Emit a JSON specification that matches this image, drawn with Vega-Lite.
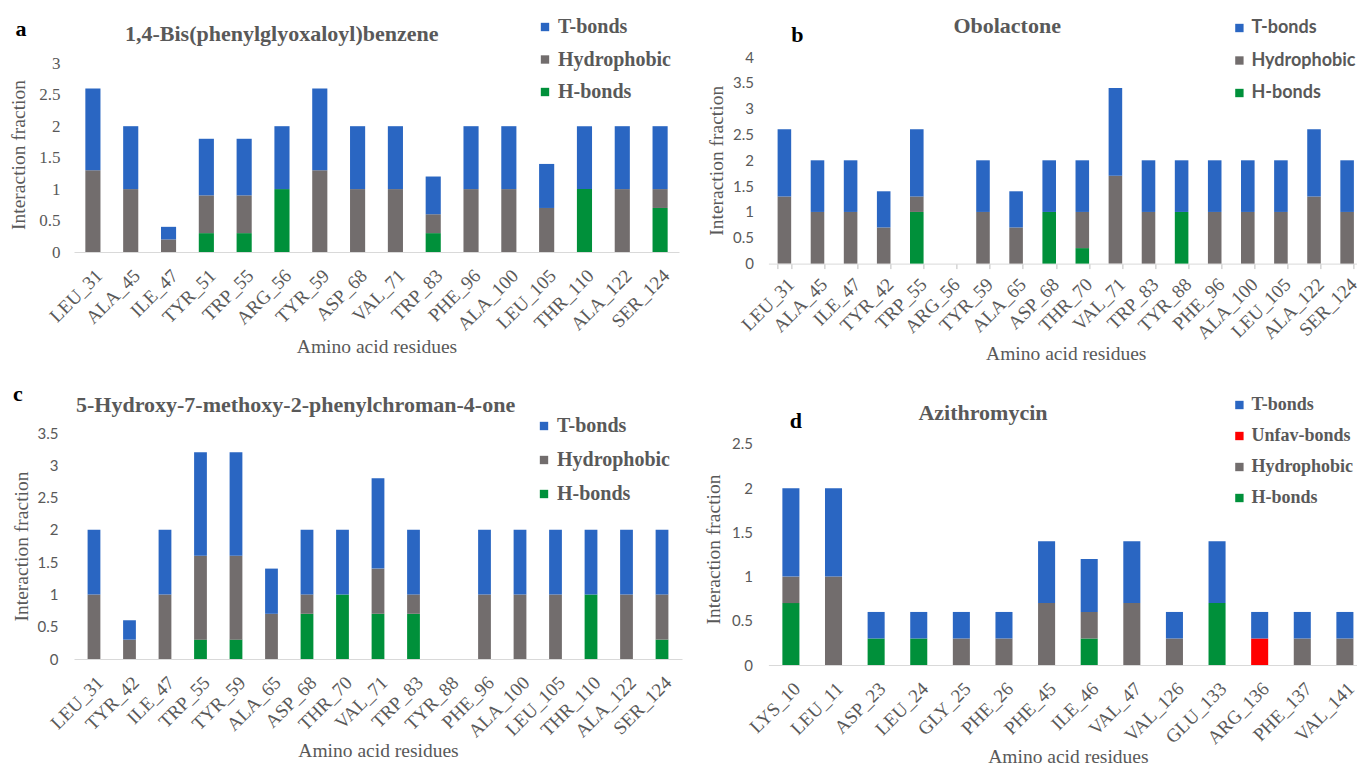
{
  "$schema": "https://vega.github.io/schema/vega-lite/v6.json",
  "background": "white",
  "padding": {"left": 8, "top": 15, "right": 0, "bottom": 0},
  "config": {
    "view": {"stroke": null},
    "font": "Liberation Serif",
    "axis": {"grid": false, "labelColor": "#595959", "titleColor": "#595959", "titleFontWeight": "normal", "titleFont": "Liberation Serif", "titleFontSize": 19.5, "domainColor": "#d9d9d9"},
    "legend": {"labelColor": "#595959", "labelFontWeight": "bold", "symbolType": "square", "symbolStrokeWidth": 0, "title": null}
  },
  "data": {"values": [
    {"panel": "a", "residue": "LEU_31", "type": "Hydrophobic", "value": 1.3},
    {"panel": "a", "residue": "LEU_31", "type": "T-bonds", "value": 1.3},
    {"panel": "a", "residue": "ALA_45", "type": "Hydrophobic", "value": 1.0},
    {"panel": "a", "residue": "ALA_45", "type": "T-bonds", "value": 1.0},
    {"panel": "a", "residue": "ILE_47", "type": "Hydrophobic", "value": 0.2},
    {"panel": "a", "residue": "ILE_47", "type": "T-bonds", "value": 0.2},
    {"panel": "a", "residue": "TYR_51", "type": "H-bonds", "value": 0.3},
    {"panel": "a", "residue": "TYR_51", "type": "Hydrophobic", "value": 0.6},
    {"panel": "a", "residue": "TYR_51", "type": "T-bonds", "value": 0.9},
    {"panel": "a", "residue": "TRP_55", "type": "H-bonds", "value": 0.3},
    {"panel": "a", "residue": "TRP_55", "type": "Hydrophobic", "value": 0.6},
    {"panel": "a", "residue": "TRP_55", "type": "T-bonds", "value": 0.9},
    {"panel": "a", "residue": "ARG_56", "type": "H-bonds", "value": 1.0},
    {"panel": "a", "residue": "ARG_56", "type": "T-bonds", "value": 1.0},
    {"panel": "a", "residue": "TYR_59", "type": "Hydrophobic", "value": 1.3},
    {"panel": "a", "residue": "TYR_59", "type": "T-bonds", "value": 1.3},
    {"panel": "a", "residue": "ASP_68", "type": "Hydrophobic", "value": 1.0},
    {"panel": "a", "residue": "ASP_68", "type": "T-bonds", "value": 1.0},
    {"panel": "a", "residue": "VAL_71", "type": "Hydrophobic", "value": 1.0},
    {"panel": "a", "residue": "VAL_71", "type": "T-bonds", "value": 1.0},
    {"panel": "a", "residue": "TRP_83", "type": "H-bonds", "value": 0.3},
    {"panel": "a", "residue": "TRP_83", "type": "Hydrophobic", "value": 0.3},
    {"panel": "a", "residue": "TRP_83", "type": "T-bonds", "value": 0.6},
    {"panel": "a", "residue": "PHE_96", "type": "Hydrophobic", "value": 1.0},
    {"panel": "a", "residue": "PHE_96", "type": "T-bonds", "value": 1.0},
    {"panel": "a", "residue": "ALA_100", "type": "Hydrophobic", "value": 1.0},
    {"panel": "a", "residue": "ALA_100", "type": "T-bonds", "value": 1.0},
    {"panel": "a", "residue": "LEU_105", "type": "Hydrophobic", "value": 0.7},
    {"panel": "a", "residue": "LEU_105", "type": "T-bonds", "value": 0.7},
    {"panel": "a", "residue": "THR_110", "type": "H-bonds", "value": 1.0},
    {"panel": "a", "residue": "THR_110", "type": "T-bonds", "value": 1.0},
    {"panel": "a", "residue": "ALA_122", "type": "Hydrophobic", "value": 1.0},
    {"panel": "a", "residue": "ALA_122", "type": "T-bonds", "value": 1.0},
    {"panel": "a", "residue": "SER_124", "type": "H-bonds", "value": 0.7},
    {"panel": "a", "residue": "SER_124", "type": "Hydrophobic", "value": 0.3},
    {"panel": "a", "residue": "SER_124", "type": "T-bonds", "value": 1.0},

    {"panel": "b", "residue": "LEU_31", "type": "Hydrophobic", "value": 1.3},
    {"panel": "b", "residue": "LEU_31", "type": "T-bonds", "value": 1.3},
    {"panel": "b", "residue": "ALA_45", "type": "Hydrophobic", "value": 1.0},
    {"panel": "b", "residue": "ALA_45", "type": "T-bonds", "value": 1.0},
    {"panel": "b", "residue": "ILE_47", "type": "Hydrophobic", "value": 1.0},
    {"panel": "b", "residue": "ILE_47", "type": "T-bonds", "value": 1.0},
    {"panel": "b", "residue": "TYR_42", "type": "Hydrophobic", "value": 0.7},
    {"panel": "b", "residue": "TYR_42", "type": "T-bonds", "value": 0.7},
    {"panel": "b", "residue": "TRP_55", "type": "H-bonds", "value": 1.0},
    {"panel": "b", "residue": "TRP_55", "type": "Hydrophobic", "value": 0.3},
    {"panel": "b", "residue": "TRP_55", "type": "T-bonds", "value": 1.3},
    {"panel": "b", "residue": "ARG_56", "type": "T-bonds", "value": 0},
    {"panel": "b", "residue": "TYR_59", "type": "Hydrophobic", "value": 1.0},
    {"panel": "b", "residue": "TYR_59", "type": "T-bonds", "value": 1.0},
    {"panel": "b", "residue": "ALA_65", "type": "Hydrophobic", "value": 0.7},
    {"panel": "b", "residue": "ALA_65", "type": "T-bonds", "value": 0.7},
    {"panel": "b", "residue": "ASP_68", "type": "H-bonds", "value": 1.0},
    {"panel": "b", "residue": "ASP_68", "type": "T-bonds", "value": 1.0},
    {"panel": "b", "residue": "THR_70", "type": "H-bonds", "value": 0.3},
    {"panel": "b", "residue": "THR_70", "type": "Hydrophobic", "value": 0.7},
    {"panel": "b", "residue": "THR_70", "type": "T-bonds", "value": 1.0},
    {"panel": "b", "residue": "VAL_71", "type": "Hydrophobic", "value": 1.7},
    {"panel": "b", "residue": "VAL_71", "type": "T-bonds", "value": 1.7},
    {"panel": "b", "residue": "TRP_83", "type": "Hydrophobic", "value": 1.0},
    {"panel": "b", "residue": "TRP_83", "type": "T-bonds", "value": 1.0},
    {"panel": "b", "residue": "TYR_88", "type": "H-bonds", "value": 1.0},
    {"panel": "b", "residue": "TYR_88", "type": "T-bonds", "value": 1.0},
    {"panel": "b", "residue": "PHE_96", "type": "Hydrophobic", "value": 1.0},
    {"panel": "b", "residue": "PHE_96", "type": "T-bonds", "value": 1.0},
    {"panel": "b", "residue": "ALA_100", "type": "Hydrophobic", "value": 1.0},
    {"panel": "b", "residue": "ALA_100", "type": "T-bonds", "value": 1.0},
    {"panel": "b", "residue": "LEU_105", "type": "Hydrophobic", "value": 1.0},
    {"panel": "b", "residue": "LEU_105", "type": "T-bonds", "value": 1.0},
    {"panel": "b", "residue": "ALA_122", "type": "Hydrophobic", "value": 1.3},
    {"panel": "b", "residue": "ALA_122", "type": "T-bonds", "value": 1.3},
    {"panel": "b", "residue": "SER_124", "type": "Hydrophobic", "value": 1.0},
    {"panel": "b", "residue": "SER_124", "type": "T-bonds", "value": 1.0},

    {"panel": "c", "residue": "LEU_31", "type": "Hydrophobic", "value": 1.0},
    {"panel": "c", "residue": "LEU_31", "type": "T-bonds", "value": 1.0},
    {"panel": "c", "residue": "TYR_42", "type": "Hydrophobic", "value": 0.3},
    {"panel": "c", "residue": "TYR_42", "type": "T-bonds", "value": 0.3},
    {"panel": "c", "residue": "ILE_47", "type": "Hydrophobic", "value": 1.0},
    {"panel": "c", "residue": "ILE_47", "type": "T-bonds", "value": 1.0},
    {"panel": "c", "residue": "TRP_55", "type": "H-bonds", "value": 0.3},
    {"panel": "c", "residue": "TRP_55", "type": "Hydrophobic", "value": 1.3},
    {"panel": "c", "residue": "TRP_55", "type": "T-bonds", "value": 1.6},
    {"panel": "c", "residue": "TYR_59", "type": "H-bonds", "value": 0.3},
    {"panel": "c", "residue": "TYR_59", "type": "Hydrophobic", "value": 1.3},
    {"panel": "c", "residue": "TYR_59", "type": "T-bonds", "value": 1.6},
    {"panel": "c", "residue": "ALA_65", "type": "Hydrophobic", "value": 0.7},
    {"panel": "c", "residue": "ALA_65", "type": "T-bonds", "value": 0.7},
    {"panel": "c", "residue": "ASP_68", "type": "H-bonds", "value": 0.7},
    {"panel": "c", "residue": "ASP_68", "type": "Hydrophobic", "value": 0.3},
    {"panel": "c", "residue": "ASP_68", "type": "T-bonds", "value": 1.0},
    {"panel": "c", "residue": "THR_70", "type": "H-bonds", "value": 1.0},
    {"panel": "c", "residue": "THR_70", "type": "T-bonds", "value": 1.0},
    {"panel": "c", "residue": "VAL_71", "type": "H-bonds", "value": 0.7},
    {"panel": "c", "residue": "VAL_71", "type": "Hydrophobic", "value": 0.7},
    {"panel": "c", "residue": "VAL_71", "type": "T-bonds", "value": 1.4},
    {"panel": "c", "residue": "TRP_83", "type": "H-bonds", "value": 0.7},
    {"panel": "c", "residue": "TRP_83", "type": "Hydrophobic", "value": 0.3},
    {"panel": "c", "residue": "TRP_83", "type": "T-bonds", "value": 1.0},
    {"panel": "c", "residue": "TYR_88", "type": "T-bonds", "value": 0},
    {"panel": "c", "residue": "PHE_96", "type": "Hydrophobic", "value": 1.0},
    {"panel": "c", "residue": "PHE_96", "type": "T-bonds", "value": 1.0},
    {"panel": "c", "residue": "ALA_100", "type": "Hydrophobic", "value": 1.0},
    {"panel": "c", "residue": "ALA_100", "type": "T-bonds", "value": 1.0},
    {"panel": "c", "residue": "LEU_105", "type": "Hydrophobic", "value": 1.0},
    {"panel": "c", "residue": "LEU_105", "type": "T-bonds", "value": 1.0},
    {"panel": "c", "residue": "THR_110", "type": "H-bonds", "value": 1.0},
    {"panel": "c", "residue": "THR_110", "type": "T-bonds", "value": 1.0},
    {"panel": "c", "residue": "ALA_122", "type": "Hydrophobic", "value": 1.0},
    {"panel": "c", "residue": "ALA_122", "type": "T-bonds", "value": 1.0},
    {"panel": "c", "residue": "SER_124", "type": "H-bonds", "value": 0.3},
    {"panel": "c", "residue": "SER_124", "type": "Hydrophobic", "value": 0.7},
    {"panel": "c", "residue": "SER_124", "type": "T-bonds", "value": 1.0},

    {"panel": "d", "residue": "LYS_10", "type": "H-bonds", "value": 0.7},
    {"panel": "d", "residue": "LYS_10", "type": "Hydrophobic", "value": 0.3},
    {"panel": "d", "residue": "LYS_10", "type": "T-bonds", "value": 1.0},
    {"panel": "d", "residue": "LEU_11", "type": "Hydrophobic", "value": 1.0},
    {"panel": "d", "residue": "LEU_11", "type": "T-bonds", "value": 1.0},
    {"panel": "d", "residue": "ASP_23", "type": "H-bonds", "value": 0.3},
    {"panel": "d", "residue": "ASP_23", "type": "T-bonds", "value": 0.3},
    {"panel": "d", "residue": "LEU_24", "type": "H-bonds", "value": 0.3},
    {"panel": "d", "residue": "LEU_24", "type": "T-bonds", "value": 0.3},
    {"panel": "d", "residue": "GLY_25", "type": "Hydrophobic", "value": 0.3},
    {"panel": "d", "residue": "GLY_25", "type": "T-bonds", "value": 0.3},
    {"panel": "d", "residue": "PHE_26", "type": "Hydrophobic", "value": 0.3},
    {"panel": "d", "residue": "PHE_26", "type": "T-bonds", "value": 0.3},
    {"panel": "d", "residue": "PHE_45", "type": "Hydrophobic", "value": 0.7},
    {"panel": "d", "residue": "PHE_45", "type": "T-bonds", "value": 0.7},
    {"panel": "d", "residue": "ILE_46", "type": "H-bonds", "value": 0.3},
    {"panel": "d", "residue": "ILE_46", "type": "Hydrophobic", "value": 0.3},
    {"panel": "d", "residue": "ILE_46", "type": "T-bonds", "value": 0.6},
    {"panel": "d", "residue": "VAL_47", "type": "Hydrophobic", "value": 0.7},
    {"panel": "d", "residue": "VAL_47", "type": "T-bonds", "value": 0.7},
    {"panel": "d", "residue": "VAL_126", "type": "Hydrophobic", "value": 0.3},
    {"panel": "d", "residue": "VAL_126", "type": "T-bonds", "value": 0.3},
    {"panel": "d", "residue": "GLU_133", "type": "H-bonds", "value": 0.7},
    {"panel": "d", "residue": "GLU_133", "type": "T-bonds", "value": 0.7},
    {"panel": "d", "residue": "ARG_136", "type": "Unfav-bonds", "value": 0.3},
    {"panel": "d", "residue": "ARG_136", "type": "T-bonds", "value": 0.3},
    {"panel": "d", "residue": "PHE_137", "type": "Hydrophobic", "value": 0.3},
    {"panel": "d", "residue": "PHE_137", "type": "T-bonds", "value": 0.3},
    {"panel": "d", "residue": "VAL_141", "type": "Hydrophobic", "value": 0.3},
    {"panel": "d", "residue": "VAL_141", "type": "T-bonds", "value": 0.3}
  ]},
  "columns": 2,
  "bounds": "flush",
  "spacing": {"row": 169, "column": 86.4},
  "resolve": {"scale": {"x": "independent", "y": "independent", "color": "independent"}, "legend": {"color": "independent"}},
  "concat": [
    {
      "width": 605, "height": 195,
      "title": {"text": "1,4-Bis(phenylglyoxaloyl)benzene", "anchor": "start", "frame": "group", "dx": 51, "dy": 44, "offset": 15, "font": "Liberation Serif", "fontSize": 22, "fontWeight": "bold", "color": "#595959"},
      "layer": [
        {
          "transform": [{"filter": "datum.panel === 'a'"}, {"window": [{"op": "row_number", "as": "stack_order"}]}],
          "mark": {"type": "bar"},
          "encoding": {
            "x": {"field": "residue", "type": "nominal", "scale": {"domain": ["LEU_31","ALA_45","ILE_47","TYR_51","TRP_55","ARG_56","TYR_59","ASP_68","VAL_71","TRP_83","PHE_96","ALA_100","LEU_105","THR_110","ALA_122","SER_124"], "paddingInner": 0.6, "paddingOuter": 0.3},
                  "axis": {"title": "Amino acid residues", "labelAngle": -45, "labelFont": "Liberation Serif", "labelFontSize": 19, "ticks": false, "labelPadding": 14, "titlePadding": 4}},
            "y": {"field": "value", "type": "quantitative", "stack": "zero", "scale": {"domain": [0, 3.1], "nice": false},
                  "axis": {"title": "Interaction fraction", "values": [0,0.5,1,1.5,2,2.5,3], "tickCount": 20, "format": "~g", "labelOverlap": false, "labelFont": "Liberation Serif", "labelFontSize": 17, "ticks": false, "domain": false, "labelPadding": 14, "titlePadding": 10.5}},
            "color": {"field": "type", "type": "nominal",
                      "scale": {"domain": ["T-bonds","Hydrophobic","H-bonds"], "range": ["#2A66C2","#726D6D","#00903A"]},
                      "legend": {"orient": "none", "legendX": 461, "legendY": -40, "values": ["T-bonds","Hydrophobic","H-bonds"], "labelFont": "Liberation Serif", "labelFontSize": 20, "symbolSize": 70, "rowPadding": 12.5, "labelOffset": 3}},
            "order": {"field": "stack_order", "type": "quantitative", "sort": "ascending"}
          }
        },
        {
          "data": {"values": [{"label": "a"}]},
          "mark": {"type": "text", "font": "Liberation Serif", "fontSize": 22, "fontWeight": "bold", "color": "black", "align": "center", "baseline": "middle", "dx": -72},
          "encoding": {"text": {"field": "label"}, "x": {"datum": "LEU_31", "type": "nominal"}, "y": {"datum": 3.55, "type": "quantitative"}}
        }
      ]
    },
    {
      "width": 594.7, "height": 206.6,
      "title": {"text": "Obolactone", "anchor": "start", "frame": "group", "dx": 185, "dy": 42, "offset": 23, "font": "Liberation Serif", "fontSize": 22, "fontWeight": "bold", "color": "#595959"},
      "layer": [
        {
          "transform": [{"filter": "datum.panel === 'b'"}, {"window": [{"op": "row_number", "as": "stack_order"}]}],
          "mark": {"type": "bar"},
          "encoding": {
            "x": {"field": "residue", "type": "nominal", "scale": {"domain": ["LEU_31","ALA_45","ILE_47","TYR_42","TRP_55","ARG_56","TYR_59","ALA_65","ASP_68","THR_70","VAL_71","TRP_83","TYR_88","PHE_96","ALA_100","LEU_105","ALA_122","SER_124"], "paddingInner": 0.59, "paddingOuter": 0.278},
                  "axis": {"title": "Amino acid residues", "labelAngle": -45, "labelFont": "Liberation Serif", "labelFontSize": 19, "ticks": true, "tickBand": "extent", "tickColor": "#bfbfbf", "tickSize": 5, "labelPadding": 6, "titlePadding": 2}},
            "y": {"field": "value", "type": "quantitative", "stack": "zero", "scale": {"domain": [0, 4], "nice": false},
                  "axis": {"title": "Interaction fraction", "values": [0,0.5,1,1.5,2,2.5,3,3.5,4], "tickCount": 20, "format": "~g", "labelOverlap": false, "labelFont": "Lato", "labelFontSize": 15, "ticks": false, "domain": false, "labelPadding": 15, "titlePadding": 6.3}},
            "color": {"field": "type", "type": "nominal",
                      "scale": {"domain": ["T-bonds","Hydrophobic","H-bonds"], "range": ["#2A66C2","#726D6D","#00903A"]},
                      "legend": {"orient": "none", "legendX": 462, "legendY": -38, "values": ["T-bonds","Hydrophobic","H-bonds"], "labelFont": "Lato", "labelFontSize": 18, "symbolSize": 70, "rowPadding": 14.5, "labelOffset": 3}},
            "order": {"field": "stack_order", "type": "quantitative", "sort": "ascending"}
          }
        },
        {
          "data": {"values": [{"label": "b"}]},
          "mark": {"type": "text", "font": "Liberation Serif", "fontSize": 22, "fontWeight": "bold", "color": "black", "align": "center", "baseline": "middle", "dx": 13},
          "encoding": {"text": {"field": "label"}, "x": {"datum": "LEU_31", "type": "nominal"}, "y": {"datum": 4.42, "type": "quantitative"}}
        }
      ]
    },
    {
      "width": 608, "height": 226,
      "title": {"text": "5-Hydroxy-7-methoxy-2-phenylchroman-4-one", "anchor": "start", "frame": "group", "dx": 2, "dy": 52.7, "offset": 18, "font": "Liberation Serif", "fontSize": 22, "fontWeight": "bold", "color": "#595959"},
      "layer": [
        {
          "transform": [{"filter": "datum.panel === 'c'"}, {"window": [{"op": "row_number", "as": "stack_order"}]}],
          "mark": {"type": "bar"},
          "encoding": {
            "x": {"field": "residue", "type": "nominal", "scale": {"domain": ["LEU_31","TYR_42","ILE_47","TRP_55","TYR_59","ALA_65","ASP_68","THR_70","VAL_71","TRP_83","TYR_88","PHE_96","ALA_100","LEU_105","THR_110","ALA_122","SER_124"], "paddingInner": 0.64, "paddingOuter": 0.383},
                  "axis": {"title": "Amino acid residues", "labelAngle": -45, "labelFont": "Liberation Serif", "labelFontSize": 19, "ticks": false, "labelPadding": 14, "titlePadding": 1}},
            "y": {"field": "value", "type": "quantitative", "stack": "zero", "scale": {"domain": [0, 3.5], "nice": false},
                  "axis": {"title": "Interaction fraction", "values": [0,0.5,1,1.5,2,2.5,3,3.5], "tickCount": 20, "format": "~g", "labelOverlap": false, "labelFont": "Lato", "labelFontSize": 15, "ticks": false, "domain": false, "labelPadding": 16, "titlePadding": 5.1}},
            "color": {"field": "type", "type": "nominal",
                      "scale": {"domain": ["T-bonds","Hydrophobic","H-bonds"], "range": ["#2A66C2","#726D6D","#00903A"]},
                      "legend": {"orient": "none", "legendX": 460, "legendY": -17, "values": ["T-bonds","Hydrophobic","H-bonds"], "labelFont": "Liberation Serif", "labelFontSize": 20, "symbolSize": 70, "rowPadding": 14, "labelOffset": 3}},
            "order": {"field": "stack_order", "type": "quantitative", "sort": "ascending"}
          }
        },
        {
          "data": {"values": [{"label": "c"}]},
          "mark": {"type": "text", "font": "Liberation Serif", "fontSize": 22, "fontWeight": "bold", "color": "black", "align": "center", "baseline": "middle", "dx": -76},
          "encoding": {"text": {"field": "label"}, "x": {"datum": "LEU_31", "type": "nominal"}, "y": {"datum": 4.11, "type": "quantitative"}}
        }
      ]
    },
    {
      "width": 599, "height": 232,
      "title": {"text": "Azithromycin", "anchor": "start", "frame": "group", "dx": 150, "dy": 40.7, "offset": 12, "font": "Liberation Serif", "fontSize": 22, "fontWeight": "bold", "color": "#595959"},
      "layer": [
        {
          "transform": [{"filter": "datum.panel === 'd'"}, {"window": [{"op": "row_number", "as": "stack_order"}]}],
          "mark": {"type": "bar"},
          "encoding": {
            "x": {"field": "residue", "type": "nominal", "scale": {"domain": ["LYS_10","LEU_11","ASP_23","LEU_24","GLY_25","PHE_26","PHE_45","ILE_46","VAL_47","VAL_126","GLU_133","ARG_136","PHE_137","VAL_141"], "paddingInner": 0.6, "paddingOuter": 0.328},
                  "axis": {"title": "Amino acid residues", "labelAngle": -45, "labelFont": "Liberation Serif", "labelFontSize": 19, "ticks": false, "labelPadding": 14, "titlePadding": 0}},
            "y": {"field": "value", "type": "quantitative", "stack": "zero", "scale": {"domain": [0, 2.624], "nice": false},
                  "axis": {"title": "Interaction fraction", "values": [0,0.5,1,1.5,2,2.5], "tickCount": 20, "format": "~g", "labelOverlap": false, "labelFont": "Lato", "labelFontSize": 15, "ticks": false, "domain": false, "labelPadding": 16, "titlePadding": 8}},
            "color": {"field": "type", "type": "nominal",
                      "scale": {"domain": ["T-bonds","Unfav-bonds","Hydrophobic","H-bonds"], "range": ["#2A66C2","#FF0000","#726D6D","#00903A"]},
                      "legend": {"orient": "none", "legendX": 462, "legendY": -37, "values": ["T-bonds","Unfav-bonds","Hydrophobic","H-bonds"], "labelFont": "Liberation Serif", "labelFontSize": 18, "symbolSize": 70, "rowPadding": 13, "labelOffset": 3}},
            "order": {"field": "stack_order", "type": "quantitative", "sort": "ascending"}
          }
        },
        {
          "data": {"values": [{"label": "d"}]},
          "mark": {"type": "text", "font": "Liberation Serif", "fontSize": 22, "fontWeight": "bold", "color": "black", "align": "center", "baseline": "middle", "dx": 5},
          "encoding": {"text": {"field": "label"}, "x": {"datum": "LYS_10", "type": "nominal"}, "y": {"datum": 2.763, "type": "quantitative"}}
        }
      ]
    }
  ]
}
